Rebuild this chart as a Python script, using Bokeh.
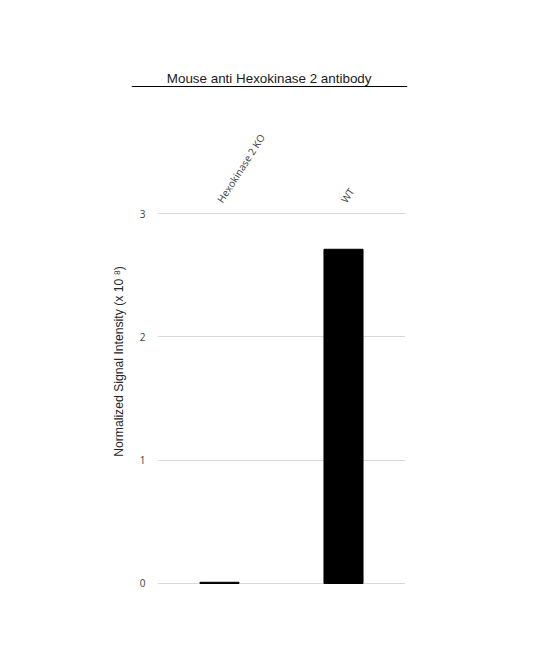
import math
from bokeh.plotting import figure
from bokeh.layouts import column, row
from bokeh.models import FactorRange, Range1d, FixedTicker
from bokeh.core.properties import value
from bokeh.embed import file_html
from bokeh.resources import INLINE

categories = ["Hexokinase 2 KO", "WT"]
values = [0.01, 2.71]
y_ticks = [0, 1, 2, 3]
title_text = "Mouse anti  Hexokinase 2 antibody"
y_label = "Normalized Signal Intensity (x 10 \u2078)"

# ---- title strip (title text + underline) ----
tf = figure(x_range=Range1d(0, 276), y_range=Range1d(0, 35),
            x_axis_location=None, y_axis_location=None,
            frame_width=276, frame_height=35,
            min_border_left=131, min_border_right=128,
            min_border_top=60, min_border_bottom=5,
            output_backend="svg", toolbar_location=None)
tf.outline_line_color = None
tf.grid.visible = False
tf.text(x=[139.5], y=[17], text=[title_text], text_align="center",
        text_baseline="middle", text_font=value("Liberation Sans"),
        text_font_size="13.4px", text_color="#1a1a1a")
tf.segment(x0=[0], y0=[9], x1=[276], y1=[9], line_color="black", line_width=1.2)

# ---- y-axis title strip ----
lf = figure(x_range=Range1d(0, 130), y_range=Range1d(0, 530),
            x_axis_location=None, y_axis_location=None,
            frame_width=130, frame_height=530,
            min_border_left=0, min_border_right=0,
            min_border_top=0, min_border_bottom=0,
            output_backend="svg", toolbar_location=None)
lf.outline_line_color = None
lf.grid.visible = False
lf.text(x=[118], y=[380], text=[y_label], angle=math.pi / 2,
        text_align="center", text_baseline="middle",
        text_font=value("Liberation Sans"), text_font_size="12.2px",
        text_color="#262626")

# ---- main bar chart ----
pad = 2 / 123.33
p = figure(x_range=FactorRange(*categories, range_padding=0),
           y_range=Range1d(-pad, 3 + pad),
           x_axis_location="above",
           frame_width=248, frame_height=374,
           min_border_left=27, min_border_right=130,
           min_border_top=111, min_border_bottom=45,
           output_backend="svg", toolbar_location=None)

p.vbar(x=categories, top=values, width=0.315, color="black")

p.outline_line_color = None
p.xgrid.grid_line_color = None
p.ygrid.ticker = FixedTicker(ticks=y_ticks)
p.ygrid.grid_line_color = "#d9d9d9"
p.ygrid.grid_line_width = 1

p.yaxis.ticker = FixedTicker(ticks=y_ticks)
p.yaxis.axis_line_color = None
p.yaxis.major_tick_line_color = None
p.yaxis.minor_tick_line_color = None
p.yaxis.major_tick_out = 0
p.yaxis.major_label_standoff = 12
p.yaxis.major_label_text_font = "Open Sans"
p.yaxis.major_label_text_font_size = "10px"
p.yaxis.major_label_text_color = "#404040"

p.xaxis.axis_line_color = None
p.xaxis.major_tick_line_color = None
p.xaxis.major_tick_out = 0
p.xaxis.major_label_standoff = 10
p.xaxis.major_label_orientation = 1.0
p.xaxis.major_label_text_font = "Open Sans"
p.xaxis.major_label_text_font_size = "10px"
p.xaxis.major_label_text_color = "#404040"

layout = column(tf, row(lf, p))
open("out.html", "w").write(file_html(layout, INLINE))
